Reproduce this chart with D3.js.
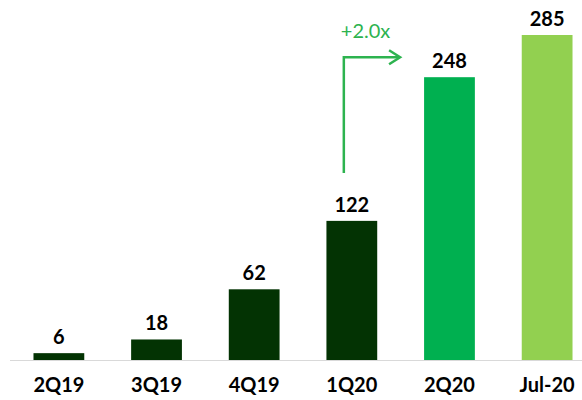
<!DOCTYPE html>
<html>
<head>
<meta charset="utf-8">
<script src="https://cdn.jsdelivr.net/npm/d3@7"></script>
<style>
  body { margin: 0; background: #fff; }
  text { font-family: Lato, "Open Sans", sans-serif; }
</style>
</head>
<body>
<div id="chart"></div>
<script>
// Chart data
const categories = ["2Q19", "3Q19", "4Q19", "1Q20", "2Q20", "Jul-20"];
const values = [6, 18, 62, 122, 248, 285];
const barColors = ["#033303", "#033303", "#033303", "#033303", "#00b050", "#92d050"];
const growthLabel = "+2.0x";

const width = 582, height = 400;

const svg = d3.select("#chart")
    .append("svg")
    .attr("width", width)
    .attr("height", height);

// x scale for the bars
const x = d3.scaleBand()
    .domain(categories)
    .range([12, 594])
    .paddingInner(0.48)
    .paddingOuter(0.22);

// y scale, baseline at 360
const y = d3.scaleLinear()
    .domain([0, 285])
    .range([360, 35]);

// baseline
svg.append("line")
    .attr("x1", 10).attr("x2", width)
    .attr("y1", y(0) + 0.5).attr("y2", y(0) + 0.5)
    .attr("stroke", "#d9d9d9")
    .attr("stroke-width", 1);

// bars
svg.selectAll("rect.bar")
    .data(values)
    .enter()
    .append("rect")
    .attr("class", "bar")
    .attr("x", (d, i) => x(categories[i]))
    .attr("y", d => y(d))
    .attr("width", x.bandwidth())
    .attr("height", d => y(0) - y(d))
    .attr("fill", (d, i) => barColors[i]);

// value labels
svg.selectAll("text.value")
    .data(values)
    .enter()
    .append("text")
    .attr("class", "value")
    .attr("x", (d, i) => x(categories[i]) + x.bandwidth() / 2)
    .attr("y", d => y(d) - 9)
    .attr("text-anchor", "middle")
    .attr("font-size", 20)
    .attr("font-weight", "bold")
    .attr("fill", "#000")
    .text(d => d);

// category labels
svg.selectAll("text.cat")
    .data(categories)
    .enter()
    .append("text")
    .attr("class", "cat")
    .attr("x", d => x(d) + x.bandwidth() / 2)
    .attr("y", 392)
    .attr("text-anchor", "middle")
    .attr("font-size", 20)
    .attr("font-weight", "bold")
    .attr("fill", "#000")
    .text(d => d);

// growth arrow from 1Q20 to 2Q20
const arrowColor = "#2db34f";
const ax = x("1Q20") + x.bandwidth() / 2 - 8;
const ay = y(248) - 20;
svg.append("path")
    .attr("d", `M${ax},${y(122) - 48} V${ay} H${x("2Q20") - 25}`)
    .attr("fill", "none")
    .attr("stroke", arrowColor)
    .attr("stroke-width", 2.5);
svg.append("path")
    .attr("d", `M${x("2Q20") - 35},${ay - 7} L${x("2Q20") - 24},${ay} L${x("2Q20") - 35},${ay + 7}`)
    .attr("fill", "none")
    .attr("stroke", arrowColor)
    .attr("stroke-width", 2.5);

svg.append("text")
    .attr("x", ax - 3)
    .attr("y", ay - 19)
    .attr("font-size", 20)
    .attr("fill", arrowColor)
    .text(growthLabel);
</script>
</body>
</html>
